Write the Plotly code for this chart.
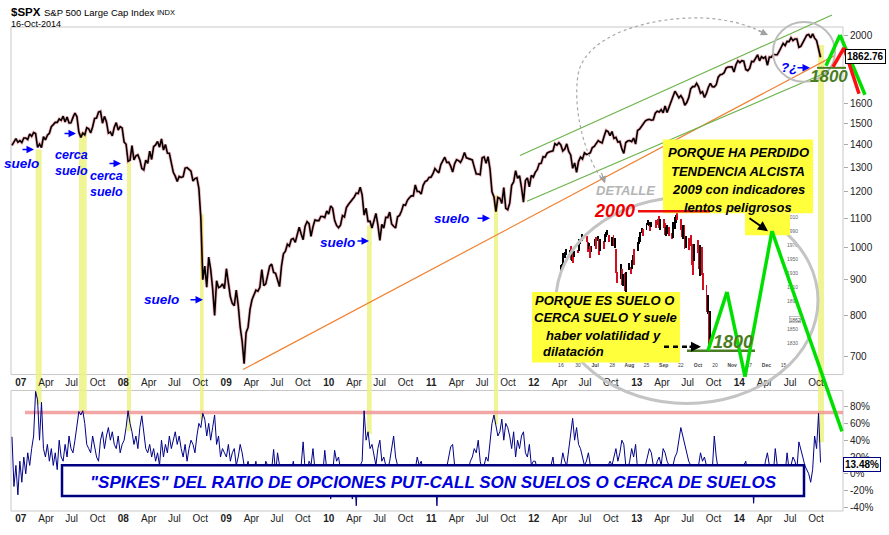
import math
import pandas as pd
import plotly.graph_objects as go

# ---------------- data ----------------
# S&P 500 weekly closes
spx_2006 = [1396, 1409, 1427, 1410, 1418]
spx_2007 = [1409, 1430, 1430, 1423, 1449, 1438, 1456, 1451, 1387, 1402, 1386, 1436, 1421,
            1443, 1452, 1484, 1494, 1505, 1505, 1522, 1515, 1536, 1507, 1532, 1502, 1503,
            1530, 1552, 1534, 1458, 1433, 1453, 1445, 1479, 1474, 1454, 1484, 1525, 1527,
            1557, 1561, 1501, 1535, 1509, 1453, 1458, 1440, 1481, 1504, 1468, 1484, 1478]
spx_2008 = [1411, 1401, 1325, 1330, 1395, 1331, 1349, 1353, 1331, 1294, 1288, 1330, 1316,
            1370, 1333, 1390, 1398, 1414, 1388, 1426, 1375, 1400, 1361, 1360, 1318, 1278,
            1262, 1240, 1261, 1257, 1260, 1296, 1298, 1292, 1283, 1242, 1252, 1255, 1213,
            1100, 899, 940, 877, 968, 930, 873, 800, 896, 876, 879, 887, 873]
spx_2009 = [932, 890, 850, 832, 826, 869, 827, 770, 735, 683, 756, 769, 816,
            842, 857, 869, 866, 877, 929, 882, 887, 919, 940, 946, 921, 918,
            896, 879, 940, 979, 987, 1010, 1004, 1026, 1029, 1016, 1042, 1068, 1044,
            1025, 1071, 1087, 1080, 1036, 1069, 1093, 1091, 1091, 1106, 1106, 1102, 1126]
spx_2010 = [1115, 1145, 1136, 1092, 1074, 1066, 1075, 1109, 1104, 1139, 1150, 1160, 1167,
            1179, 1194, 1192, 1217, 1187, 1111, 1136, 1088, 1089, 1065, 1092, 1117, 1076,
            1023, 1078, 1065, 1103, 1102, 1122, 1079, 1071, 1065, 1105, 1110, 1126, 1149,
            1147, 1166, 1176, 1183, 1183, 1226, 1200, 1200, 1190, 1225, 1240, 1244, 1257, 1258]
spx_2011 = [1272, 1294, 1284, 1276, 1311, 1329, 1343, 1320, 1321, 1304, 1279, 1314, 1332,
            1328, 1320, 1337, 1364, 1340, 1338, 1333, 1331, 1300, 1271, 1271, 1268, 1340,
            1344, 1316, 1345, 1292, 1199, 1179, 1124, 1177, 1174, 1154, 1216, 1136, 1131,
            1155, 1225, 1238, 1285, 1253, 1264, 1216, 1159, 1244, 1255, 1219, 1265, 1258]
spx_2012 = [1278, 1289, 1315, 1316, 1345, 1343, 1361, 1366, 1370, 1371, 1404, 1397, 1408,
            1398, 1370, 1379, 1403, 1369, 1353, 1295, 1318, 1278, 1325, 1343, 1335, 1362,
            1355, 1357, 1363, 1386, 1391, 1405, 1418, 1411, 1407, 1438, 1466, 1460, 1441,
            1461, 1428, 1433, 1411, 1414, 1380, 1360, 1409, 1416, 1418, 1413, 1430, 1402]
spx_2013 = [1466, 1472, 1486, 1503, 1513, 1518, 1520, 1516, 1518, 1551, 1561, 1557, 1569,
            1553, 1588, 1555, 1582, 1614, 1634, 1667, 1650, 1631, 1643, 1626, 1592, 1606,
            1632, 1680, 1692, 1692, 1710, 1691, 1656, 1664, 1633, 1655, 1688, 1710, 1692,
            1691, 1703, 1745, 1759, 1762, 1771, 1798, 1804, 1806, 1805, 1775, 1818, 1842]
spx_2014 = [1831, 1842, 1839, 1790, 1783, 1797, 1838, 1836, 1859, 1878, 1841, 1866, 1857,
            1865, 1815, 1864, 1863, 1881, 1878, 1878, 1900, 1924, 1949, 1936, 1962, 1961,
            1985, 1967, 1978, 1978, 1925, 1931, 1955, 1988, 2003, 2007, 1985, 2011, 1983,
            1968, 1906, 1862.76]

# Put/call ratio indicator (%), weekly
pc_2006 = [44, -15, 10, -25, 15]
pc_2007 = [-10, 20, 0, 25, 10, 30, 45, 98, 88, 40, 85, 30, 20, 35, 15, 30, 10, 25, 5, 40, 20,
           15, 35, 20, 45, 30, 25, 40, 55, 74, 70, 75, 60, 35, 30, 25, 45, 30, 20, 15, 40, 50,
           30, 45, 55, 40, 50, 35, 30, 45, 25, 35]
pc_2008 = [40, 55, 75, 60, 50, 35, 45, 30, 55, 69, 50, 30, 25, 35, 20, 30, 15, 25, 10, 40, 20,
           35, 25, 45, 30, 40, 50, 35, 45, 30, 20, 35, 15, 30, 40, 35, 25, 45, 60, 55, 72, 65,
           45, 60, 40, 55, 70, 35, 45, 20, 30, 25]
pc_2009 = [20, 35, 15, 25, 30, 10, 20, 35, 25, 10, 5, 15, 0, 10, 5, 15, -5, 5, 10, 0, 15,
           10, -5, 5, 29, 0, 25, 10, 5, 0, 5, 10, -10, 5, 15, 0, 5, -5, 10, 38, 5, 0, 15,
           10, 30, 5, 0, 10, 5, 0, 28, 5]
pc_2010 = [5, -30, 0, 28, 15, 20, 5, 0, 10, 5, 0, 10, -30, 0, -38, 5, 10, 15, 75, 40, 50, 30,
           35, 20, 10, 30, 40, 15, 20, 10, 5, 15, 30, 45, 20, 10, 5, 0, 5, 0, -5, 5, 10, 0,
           5, 20, 10, 15, 5, 0, -5, 0, 5]
pc_2011 = [-10, 5, -38, 10, 0, 5, -5, 10, 20, 32, 35, 10, 5, 0, 10, -5, 0, 10, 5, 15, 20,
           30, 25, 40, 15, 5, 10, 20, 15, 35, 60, 70, 55, 45, 50, 65, 40, 60, 55, 45, 30, 50,
           20, 40, 30, 45, 50, 25, 20, 35, 10, 15]
pc_2012 = [15, 5, 0, 10, 5, 0, 10, 5, 10, 20, 0, 5, 0, 10, 25, 15, 10, 30, 45, 66, 40, 55,
           35, 30, 20, 10, 15, 25, 10, 5, 0, 5, -5, 0, 10, 5, 0, 10, 15, 10, 20, 30, 15, 25,
           40, 35, 10, 5, 15, 30, 20, 35]
pc_2013 = [5, 10, 0, 5, 10, 20, 30, 25, 10, 5, 15, 20, 10, 30, 25, 15, 10, 5, 10, 20, 25,
           40, 55, 45, 35, 25, 15, 10, 5, 0, 5, 10, 25, 15, 20, 10, 5, 0, 5, 45, 20, 5, 0,
           5, 0, -5, 5, 0, 5, 10, -10, 0]
pc_2014 = [5, 0, 10, 15, 0, -5, 0, -35, 5, 0, 10, 5, 0, 15, 25, 10, 5, 0, 30, 10, 5, 0,
           5, 0, 25, 5, 10, 20, 15, 5, 38, 30, 20, 10, 5, 0, -10, 5, 45, 30, 72, 13.48]

year_starts = ["2006-12-01", "2007-01-01", "2008-01-01", "2009-01-01", "2010-01-01",
               "2011-01-01", "2012-01-01", "2013-01-01", "2014-01-01"]
spx_years = [spx_2006, spx_2007, spx_2008, spx_2009, spx_2010, spx_2011, spx_2012, spx_2013, spx_2014]
pc_years = [pc_2006, pc_2007, pc_2008, pc_2009, pc_2010, pc_2011, pc_2012, pc_2013, pc_2014]

# Inset: daily detail Jun 16 - Oct 16 2014
inset_close = [1937, 1942, 1957, 1959, 1962, 1962, 1950, 1959, 1957, 1961, 1960,
               1973, 1975, 1985, 1977, 1964, 1973, 1965, 1968, 1977, 1974, 1981, 1958, 1978,
               1973, 1983, 1987, 1988, 1978, 1978, 1970, 1970, 1931,
               1925, 1939, 1920, 1920, 1910, 1931, 1937, 1934, 1947, 1956, 1955, 1972, 1982,
               1987, 1993, 1988, 1997, 2000, 2000, 1997, 2003,
               2002, 2001, 1998, 2007, 2001, 1988, 1996, 1998, 1985, 1984, 2001, 2001, 2011,
               2010, 1995, 1982, 1998, 1966, 1982, 1977, 1972,
               1947, 1946, 1967, 1964, 1935, 1968, 1928, 1906, 1875, 1878, 1862, 1862]
inset_high = [1941, 1943, 1958, 1960, 1964, 1963, 1968, 1960, 1959, 1961, 1963,
              1978, 1977, 1986, 1983, 1975, 1973, 1969, 1969, 1979, 1982, 1983, 1979, 1979,
              1976, 1986, 1989, 1991, 1984, 1981, 1984, 1980, 1965,
              1932, 1943, 1936, 1928, 1930, 1932, 1944, 1939, 1948, 1956, 1964, 1974, 1982,
              1988, 1994, 1993, 2002, 2006, 2003, 1998, 2003,
              2006, 2008, 2012, 2008, 2007, 2001, 1996, 1998, 1996, 1987, 2003, 2010, 2013,
              2019, 2008, 1993, 1999, 1998, 1983, 1980, 1985,
              1972, 1952, 1971, 1977, 1962, 1970, 1967, 1930, 1912, 1898, 1874, 1876]
inset_low = [1930, 1933, 1938, 1951, 1956, 1958, 1948, 1947, 1944, 1953, 1958,
             1961, 1971, 1976, 1975, 1960, 1965, 1952, 1960, 1969, 1965, 1976, 1955, 1962,
             1965, 1975, 1982, 1985, 1974, 1968, 1969, 1966, 1930,
             1916, 1921, 1913, 1911, 1904, 1901, 1934, 1928, 1935, 1945, 1941, 1962, 1972,
             1975, 1987, 1983, 1992, 1998, 1997, 1990, 1996,
             1995, 1999, 1995, 1991, 1995, 1985, 1983, 1986, 1983, 1978, 1980, 1993, 2002,
             2006, 1991, 1982, 1979, 1965, 1966, 1963, 1968,
             1941, 1927, 1947, 1959, 1935, 1925, 1927, 1906, 1874, 1871, 1821, 1835]
inset_price_ticks = [1830, 1850, 1890, 1910, 1930, 1950, 1970, 1990, 2010]

x_tick_text_months = {1: None, 4: "Apr", 7: "Jul", 10: "Oct"}
price_ticks = [700, 800, 900, 1000, 1100, 1200, 1300, 1400, 1500, 1600, 2000]
pc_ticks = [-40, -20, 0, 20, 40, 60, 80]

# ---------------- geometry helpers ----------------
W, H = 889, 535
L, R, T, B = 11, 46, 27, 22
PW, PH = W - L - R, H - T - B


def PX(x):
    return (x - L) / PW


def PY(y):
    return (H - B - y) / PH


# ---------------- build series ----------------
dates, spx, pc = [], [], []
for start, s, p in zip(year_starts, spx_years, pc_years):
    d = pd.date_range(start, periods=len(s), freq="W-FRI")
    dates += list(d)
    spx += s
    pc += p[:len(s)] + [p[-1]] * max(0, len(s) - len(p))

inset_dates = pd.bdate_range("2014-06-16", "2014-10-16", freq="C",
                             holidays=["2014-07-04", "2014-09-01"])
inset_colors = ["black"] + ["#d01020" if inset_close[i] < inset_close[i - 1] else "black"
                            for i in range(1, len(inset_close))]

fig = go.Figure()

fig.add_trace(go.Scatter(x=dates, y=spx, mode="lines", xaxis="x", yaxis="y",
                         line=dict(color="#e0102a", width=3.2), opacity=0.3, hoverinfo="skip"))
fig.add_trace(go.Scatter(x=dates, y=spx, mode="lines", xaxis="x", yaxis="y",
                         line=dict(color="black", width=1.6)))
fig.add_trace(go.Scatter(x=dates, y=pc, mode="lines", xaxis="x2", yaxis="y2",
                         line=dict(color="#000088", width=1)))
fig.add_trace(go.Bar(x=inset_dates, y=[h - l for h, l in zip(inset_high, inset_low)],
                     base=inset_low, xaxis="x3", yaxis="y3", marker_color=inset_colors,
                     marker_line_width=0, width=0.75 * 86400000))

# ---------------- axes ----------------
tickvals, ticktext = [], []
for yr in range(2007, 2015):
    for m in (1, 4, 7, 10):
        tickvals.append(pd.Timestamp(yr, m, 1))
        ticktext.append(f"<b>{yr % 100:02d}</b>" if m == 1 else x_tick_text_months[m])

x_range = [pd.Timestamp("2006-11-27 12:00"), pd.Timestamp("2015-01-05")]
axfont = dict(family="Liberation Sans, Arial", size=10, color="#222")

inset_ticks = pd.date_range("2014-06-16", "2014-12-15", freq="2W-MON")
inset_text = []
prev_m = 6
for d in inset_ticks:
    if d.month != prev_m:
        inset_text.append(f"<b>{d.strftime('%b')}</b>")
        prev_m = d.month
    else:
        inset_text.append(str(d.day))

fig.update_layout(
    width=W, height=H, margin=dict(l=L, r=R, t=T, b=B),
    paper_bgcolor="white", plot_bgcolor="rgba(0,0,0,0)", showlegend=False,
    font=dict(family="Liberation Sans, Arial"),
    bargap=0,
    xaxis=dict(domain=[0, 1], anchor="y", type="date", range=x_range, tickvals=tickvals,
               ticktext=ticktext, tickfont=axfont, showgrid=False, zeroline=False, ticks="",
               tickangle=0),
    yaxis=dict(domain=[PY(376), 1], anchor="x", type="log", side="right",
               range=[math.log10(659), math.log10(2057)], tickvals=price_ticks,
               ticktext=[str(v) for v in price_ticks], tickfont=axfont, showgrid=False,
               ticks="outside", ticklen=4, tickcolor="#aaa", zeroline=False),
    xaxis2=dict(domain=[0, 1], anchor="y2", type="date", range=x_range, tickvals=tickvals,
                ticktext=ticktext, tickfont=axfont, showgrid=False, zeroline=False, ticks="",
                tickangle=0),
    yaxis2=dict(domain=[0, PY(392)], anchor="x2", side="right", range=[-44.2, 99.1],
                tickvals=pc_ticks, ticktext=[f"{v}%" for v in pc_ticks], tickfont=axfont,
                showgrid=False, ticks="outside", ticklen=4, tickcolor="#aaa", zeroline=False),
    xaxis3=dict(domain=[PX(556), PX(786)], anchor="y3", type="date",
                range=["2014-06-12", "2014-12-17"], tickvals=list(inset_ticks),
                ticktext=inset_text, tickfont=dict(size=5, color="#444"), showgrid=False,
                zeroline=False, ticks="", tickangle=0),
    yaxis3=dict(domain=[PY(362), PY(200)], anchor="x3", side="right", range=[1804.6, 2036],
                tickvals=inset_price_ticks, tickfont=dict(size=5, color="#666"),
                showgrid=False, zeroline=False, ticks=""),
)

shapes = []
annotations = []


def rect(x0, y0, x1, y1, **kw):
    d = dict(type="rect", xref="paper", yref="paper", x0=PX(x0), x1=PX(x1), y0=PY(y1), y1=PY(y0))
    d.update(kw)
    shapes.append(d)


def seg(x0, y0, x1, y1, color, width, dash="solid", layer="above"):
    shapes.append(dict(type="line", xref="paper", yref="paper", x0=PX(x0), y0=PY(y0),
                       x1=PX(x1), y1=PY(y1), line=dict(color=color, width=width, dash=dash),
                       layer=layer))


def poly(pts, color, width):
    for (xa, ya), (xb, yb) in zip(pts[:-1], pts[1:]):
        seg(xa, ya, xb, yb, color, width)


def text(x, y, s, size, color, bold=True, italic=True, xanchor="center", **kw):
    t = s
    if bold:
        t = f"<b>{t}</b>"
    if italic:
        t = f"<i>{t}</i>"
    d = dict(xref="paper", yref="paper", x=PX(x), y=PY(y), text=t, showarrow=False,
             xanchor=xanchor, yanchor="middle",
             font=dict(family="Liberation Sans, Arial", size=size, color=color))
    d.update(kw)
    annotations.append(d)


def arrow(x0, y0, x1, y1, color, width=1.5, head=2, size=1.0):
    annotations.append(dict(xref="paper", yref="paper", x=PX(x1), y=PY(y1), ax=x0 - x1,
                            ay=y0 - y1, text="", showarrow=True, arrowhead=head,
                            arrowsize=size, arrowwidth=width, arrowcolor=color))


# panel frames
rect(L, T, W - R, 376, line=dict(color="#c8c8c8", width=1), layer="below")
rect(L, 392, W - R, H - B, line=dict(color="#c8c8c8", width=1), layer="below")

# yellow highlight bands
band_px = [(35.7, 41.7, 150, 406), (79, 86.7, 133, 414), (127, 131, 163, 433),
           (200, 203.7, 215, 421), (367, 371.7, 226, 436), (494, 498, 196, 426),
           (818, 824, 45, 444)]
for x0, x1, y0, y1 in band_px:
    rect(x0, y0, x1, y1, fillcolor="rgba(236,242,130,0.85)", line=dict(width=0), layer="below")

# pink threshold line in lower panel
shapes.append(dict(type="line", xref="paper", yref="y2", x0=PX(25), x1=1, y0=73, y1=73,
                   line=dict(color="rgba(240,150,150,0.85)", width=3.5), layer="below"))

# trend channel lines
seg(243, 371, 834, 56, "#f08030", 1.2)
seg(520, 156, 832, 15, "#6cb34a", 1.2)
seg(527, 202, 828, 72, "#6cb34a", 1.2)

# grey circles
shapes.append(dict(type="circle", xref="paper", yref="paper", x0=PX(773), x1=PX(835),
                   y0=PY(82), y1=PY(22), line=dict(color="#bdbdbd", width=2)))
shapes.append(dict(type="circle", xref="paper", yref="paper", x0=PX(556), x1=PX(818),
                   y0=PY(405), y1=PY(198), line=dict(color="#c4c4c4", width=3)))

# dashed grey curved arrow


def pp(x, y):
    return f"{PX(x):.4f},{PY(y):.4f}"


path = (f"M {pp(605,183)} C {pp(588,165)} {pp(572,115)} {pp(578,75)} "
        f"C {pp(585,35)} {pp(650,16)} {pp(705,18)} C {pp(735,20)} {pp(752,27)} {pp(766,34)}")
shapes.append(dict(type="path", xref="paper", yref="paper", path=path,
                   line=dict(color="#a8a8a8", width=1.2, dash="dot")))
arrow(601, 172, 605, 184, "#a0a0a0", 1.2, 2, 1.2)
arrow(757, 30, 768, 35, "#a0a0a0", 1.2, 2, 1.2)

# yellow text boxes
rect(663, 140, 813, 214, fillcolor="#ffff3c", line=dict(width=0))
rect(745, 214, 790, 236, fillcolor="#ffff3c", line=dict(width=0))
rect(532, 293, 680, 364, fillcolor="#ffff3c", line=dict(width=0))

# bottom-panel caption box
rect(62, 467, 804, 498, fillcolor="white", line=dict(color="#000080", width=2.5))

# red / green markers
seg(638, 212, 710, 212, "#ee1010", 2.5)
seg(687, 352, 755, 352, "#4a7c23", 2.5)
seg(817, 68, 846, 68, "#4a7c23", 2)
seg(664, 348, 690, 348, "black", 2.5, dash="5px,4px")

# green / red zigzags
poly([(708, 352), (727, 293), (745, 378), (772, 232), (842, 433)], "#00e000", 3.5)
poly([(826, 66), (840, 35), (865, 95)], "#00e000", 3.5)
poly([(833, 67), (844, 48), (859, 94)], "#ff1010", 3.5)

# ---------------- annotations ----------------
text(9, 12, "$SPX", 11.5, "black", italic=False, xanchor="left")
text(42, 12, "S&amp;P 500 Large Cap Index", 9.5, "black", bold=False, italic=False, xanchor="left")
text(155, 12, "INDX", 7.5, "black", bold=False, italic=False, xanchor="left")
text(9, 24, "16-Oct-2014", 9, "black", bold=False, italic=False, xanchor="left")

blue = "#0000ff"
for x, y, s in [(21, 164, "suelo"), (161, 301, "suelo"),
                (337, 243, "suelo"), (452, 219, "suelo"), (789, 68, "?¿")]:
    text(x, y, s, 13.5, blue)
# stacked two-line labels
text(71, 164, "<i><b>cerca</b></i><br><i><b>suelo</b></i>", 12.5, blue, bold=False,
     italic=False)
text(106, 185, "<i><b>cerca</b></i><br><i><b>suelo</b></i>", 12.5, blue, bold=False,
     italic=False)
for x0, x1, y in [(21, 34, 150), (63, 76, 134), (108, 121, 164), (189, 203, 301),
                  (356, 369, 242), (476, 490, 219), (796, 810, 68)]:
    arrow(x0, y, x1, y, blue, 1.5, 2, 1.0)

text(625, 191, "DETALLE", 13, "#b4b4b4")
text(614, 212, "2000", 18, "#ee0000")
text(733, 343, "1800", 18, "#4a7c23")
text(829, 77, "1800", 17, "#4a7c23")

for y, s in [(153, "PORQUE HA PERDIDO"), (172, "TENDENCIA ALCISTA"),
             (190, "2009 con indicadores"), (208, "lentos peligrosos")]:
    text(738, y, s, 13, "black")
arrow(748, 218, 768, 232, "black", 2, 2, 1.0)

for x, y, s in [(604, 302, "PORQUE ES SUELO O"), (605, 319, "CERCA SUELO Y suele"),
                (603, 337, "haber volatilidad y"), (573, 353, "dilatación")]:
    text(x, y, s, 13, "black")
arrow(688, 348, 701, 348, "black", 2.5, 2, 0.8)

text(433, 484, "\"SPIKES\" DEL RATIO DE OPCIONES PUT-CALL SON SUELOS O CERCA DE SUELOS",
     17, "#0000dd")

# value labels
annotations.append(dict(xref="paper", yref="paper", x=PX(845), y=PY(57), xanchor="left",
                        yanchor="middle", text="<b>1862.76</b>", showarrow=False,
                        font=dict(size=10, color="black"), bgcolor="white",
                        bordercolor="black", borderwidth=1, borderpad=1))
annotations.append(dict(xref="paper", yref="paper", x=PX(843), y=PY(466), xanchor="left",
                        yanchor="middle", text="<b>13.48%</b>", showarrow=False,
                        font=dict(size=10, color="black"), bgcolor="white",
                        bordercolor="#000080", borderwidth=1, borderpad=1))
annotations.append(dict(xref="paper", yref="paper", x=PX(789), y=PY(321), xanchor="left",
                        yanchor="middle", text="1862", showarrow=False,
                        font=dict(size=5, color="#444"), bgcolor="white",
                        bordercolor="#888", borderwidth=0.5, borderpad=0))

fig.update_layout(shapes=shapes, annotations=annotations)
fig.write_html("out.html", config={"displayModeBar": False},
               post_script="document.body.style.margin='0px';document.body.style.padding='0px';")
